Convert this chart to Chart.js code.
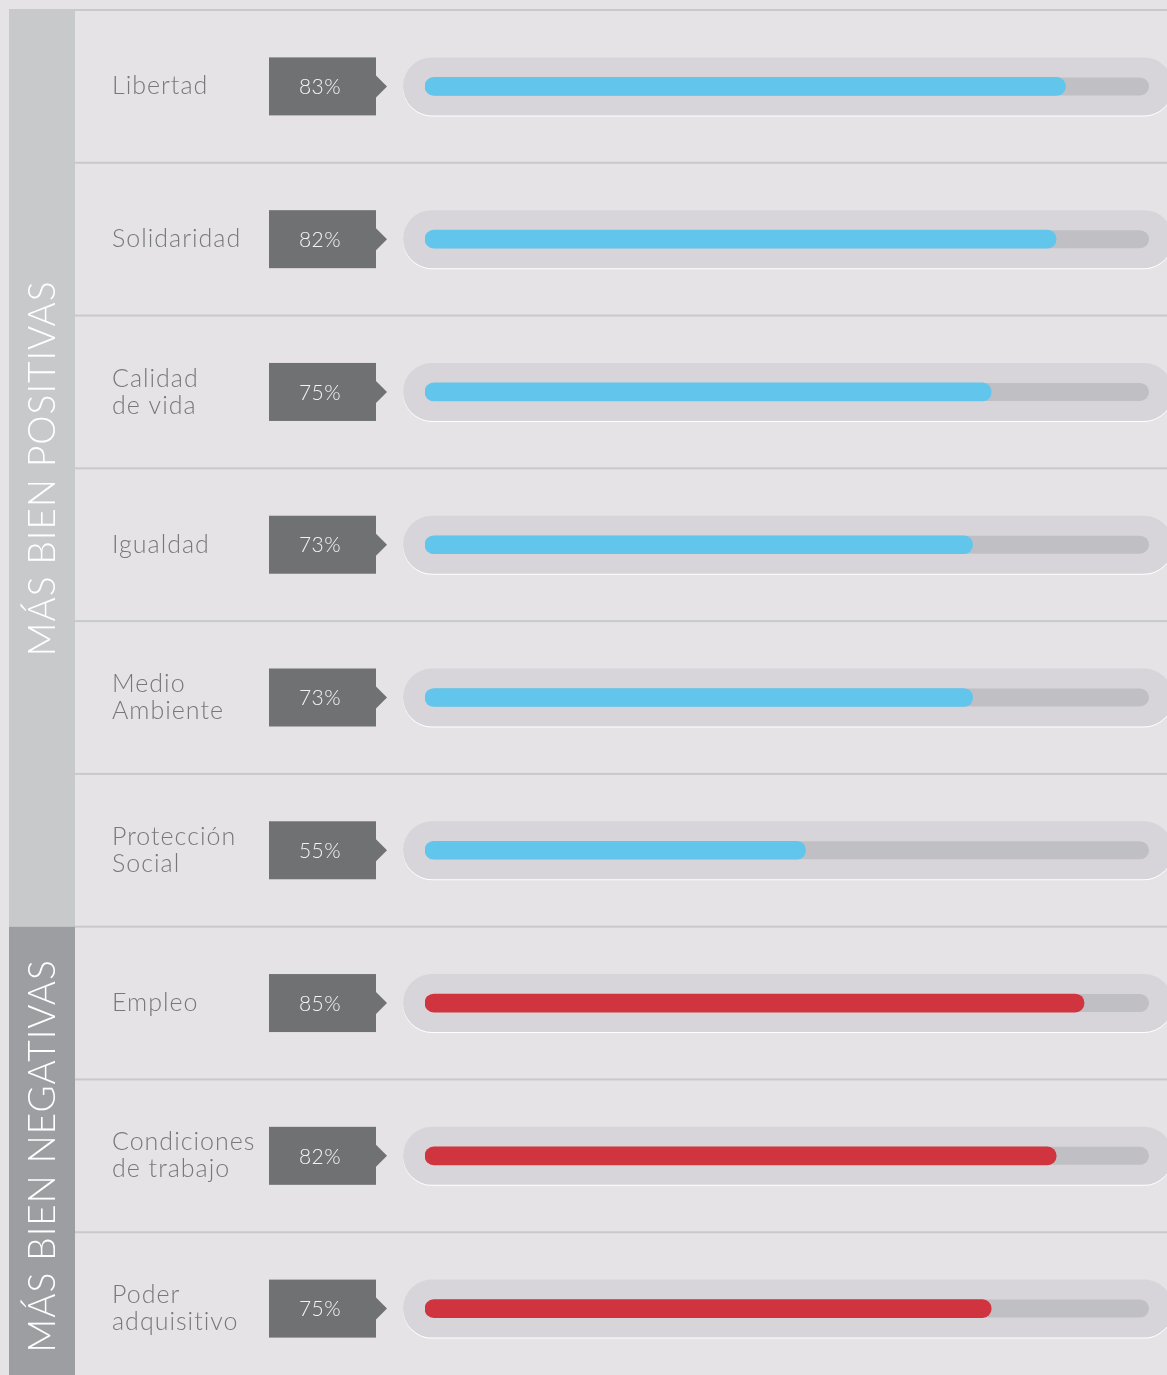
<!DOCTYPE html>
<html>
<head>
<meta charset="utf-8">
<script src="https://cdn.jsdelivr.net/npm/chart.js@4"></script>
<style>
  html, body { margin: 0; padding: 0; background: #e5e3e6; overflow: hidden; }
  #wrap { width: 1167px; height: 1400px; }
</style>
</head>
<body>
<div id="wrap"><canvas id="rankChart" width="1167" height="1400"></canvas></div>
<script>
// categories (multi-line labels) and values
const categories = [
  ['Libertad'], ['Solidaridad'], ['Calidad', 'de vida'], ['Igualdad'],
  ['Medio', 'Ambiente'], ['Protección', 'Social'], ['Empleo'],
  ['Condiciones', 'de trabajo'], ['Poder', 'adquisitivo']
];
const values = [83, 82, 75, 73, 73, 55, 85, 82, 75];
const groupNames = ['MÁS BIEN POSITIVAS', 'MÁS BIEN NEGATIVAS'];
const groupOf = [0, 0, 0, 0, 0, 0, 1, 1, 1];

const barColors = ['#62c5ec', '#cf343f'];
const bandColors = ['#c8c9cb', '#9d9ea1'];
// value range covered by the grey track
const xMin = 14, xMax = 92;

const decor = {
  id: 'decor',
  beforeDatasetsDraw(chart) {
    const ctx = chart.ctx;
    const area = chart.chartArea;
    const y = chart.scales.y;
    const rowH = (area.bottom - area.top) / categories.length;
    const W = chart.width;

    ctx.save();
    // background
    ctx.fillStyle = '#e5e3e6';
    ctx.fillRect(0, 0, W, chart.height);

    // left bands with rotated group titles
    groupNames.forEach((name, g) => {
      const idx = groupOf.map((v, i) => v === g ? i : -1).filter(i => i >= 0);
      const top = y.getPixelForValue(idx[0]) - rowH / 2;
      const bot = y.getPixelForValue(idx[idx.length - 1]) + rowH / 2;
      ctx.fillStyle = bandColors[g];
      ctx.fillRect(9, top, 66, bot - top);
      ctx.save();
      ctx.translate(43, (top + Math.min(bot, chart.height)) / 2);
      ctx.rotate(-Math.PI / 2);
      ctx.fillStyle = '#ffffff';
      ctx.font = '300 37px Lato';
      ctx.letterSpacing = '1px';
      ctx.textAlign = 'center';
      ctx.textBaseline = 'middle';
      ctx.fillText(name, 0, 0);
      ctx.restore();
    });

    // row separators
    ctx.fillStyle = '#c9c9cc';
    for (let i = 0; i < categories.length; i++) {
      const sy = y.getPixelForValue(i) - rowH / 2;
      ctx.fillRect(i === 0 ? 9 : 75, sy - 1, W, 2);
    }

    categories.forEach((lines, i) => {
      const c = y.getPixelForValue(i);

      // category label
      ctx.fillStyle = '#77787b';
      ctx.font = '300 25px Lato';
      ctx.letterSpacing = '1px';
      ctx.textAlign = 'left';
      ctx.textBaseline = 'middle';
      lines.forEach((t, k) => {
        ctx.fillText(t, 112, c + (k - (lines.length - 1) / 2) * 27);
      });

      // value badge with arrow
      ctx.fillStyle = '#707173';
      ctx.fillRect(269, c - 29, 107, 58);
      ctx.beginPath();
      ctx.moveTo(375, c - 12);
      ctx.lineTo(387, c);
      ctx.lineTo(375, c + 12);
      ctx.closePath();
      ctx.fill();
      ctx.fillStyle = '#f4f4f4';
      ctx.font = '300 21px Lato';
      ctx.letterSpacing = '0.5px';
      ctx.textAlign = 'center';
      ctx.fillText(values[i] + '%', 320, c + 1);

      // outer pill
      ctx.fillStyle = '#ffffff';
      ctx.beginPath();
      ctx.roundRect(403, c - 28, 770, 58, 29);
      ctx.fill();
      ctx.fillStyle = '#d7d5da';
      ctx.beginPath();
      ctx.roundRect(403, c - 29, 770, 58, 29);
      ctx.fill();

      // inner track
      ctx.fillStyle = '#c0bfc4';
      ctx.beginPath();
      ctx.roundRect(area.left, c - 9, area.right - area.left, 18, 9);
      ctx.fill();
    });
    ctx.restore();
  }
};

new Chart(document.getElementById('rankChart'), {
  type: 'bar',
  data: {
    labels: categories,
    datasets: [{
      data: values,
      base: xMin,
      backgroundColor: values.map((v, i) => barColors[groupOf[i]]),
      barThickness: 18,
      borderRadius: 9,
      borderSkipped: false
    }]
  },
  options: {
    indexAxis: 'y',
    responsive: false,
    animation: false,
    layout: { padding: { left: 425, right: 18, top: 10, bottom: 15 } },
    scales: {
      x: { min: xMin, max: xMax, display: false },
      y: { display: false }
    },
    plugins: {
      legend: { display: false },
      tooltip: { enabled: false }
    }
  },
  plugins: [decor]
});
</script>
</body>
</html>
